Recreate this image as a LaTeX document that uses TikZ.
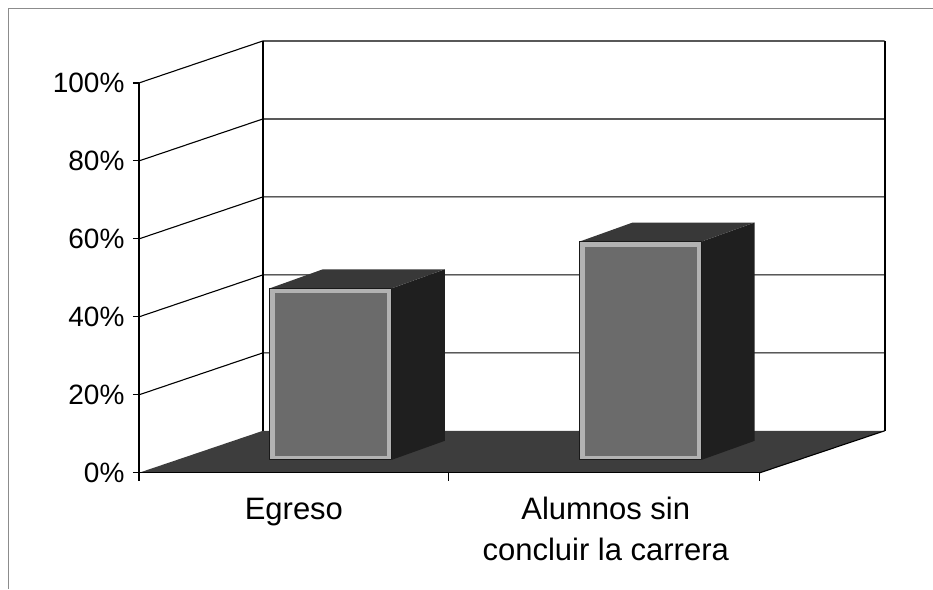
\documentclass[tikz,border=0pt]{standalone}
\usepackage{fontspec}
\setmainfont{Liberation Sans}
\begin{document}
\begin{tikzpicture}[x=1pt,y=-1pt,line join=round]
    \path (0,0) rectangle (933,589);
    \draw[black!45,line width=0.8pt] (8,589) -- (8,8) -- (933,8); % frame of the scan
    % walls with grid
    \fill[white] (139,473) -- (139,83) -- (263,41) -- (885,41) -- (885,431) -- (263,431) -- cycle;
    \foreach \p in {20,40,...,100}{\pgfmathsetmacro\yy{473-3.9*\p}
      \draw[line width=1.1pt] (139,\yy) -- (263,\yy-42) -- (885,\yy-42);
      \draw[line width=1.1pt] (133,\yy) -- (139,\yy);}
    \draw[line width=1.6pt] (263,431) -- (263,41); \draw[line width=2pt] (885,41) -- (885,431);
    % floor
    \fill[black!76] (139,473) -- (263,431) -- (885,431) -- (760,473) -- cycle;
    \draw[line width=1.1pt] (885,431) -- (760,473);
    \draw[line width=1.4pt] (139,83) -- (139,481); \draw[line width=1.1pt] (133,473) -- (760,473);
    \foreach \x in {449,760}{\draw[line width=1.1pt] (\x,473) -- (\x,481);}
    % bars
    \foreach \x/\h in {270/44,580/56}{\pgfmathsetmacro\bartop{460-3.9*\h}
      \fill[black!88] (\x+122,460) -- (\x+175,441) -- (\x+175,\bartop-19) -- (\x+122,\bartop) -- cycle;
      \fill[black!78] (\x,\bartop) -- (\x+53,\bartop-19) -- (\x+175,\bartop-19) -- (\x+122,\bartop) -- cycle;
      \draw[black!90,line width=1.2pt,fill=black!30] (\x,460) rectangle (\x+122,\bartop);
      \fill[black!58] (\x+5,456) rectangle (\x+117,\bartop+5);}
    % labels
    \foreach \p in {0,20,...,100}{\pgfmathsetmacro\yy{473-3.9*\p}
      \node[anchor=east,font=\fontsize{28}{32}\selectfont] (p\p) at (128,\yy) {\p\%};}
    \node[anchor=base,font=\fontsize{31}{41}\selectfont] (egreso) at (294,520) {Egreso};
    \node[anchor=base,align=center,font=\fontsize{31}{41}\selectfont] (alumnos) at (606,561) {Alumnos sin\\concluir la carrera};
\end{tikzpicture}
\end{document}
